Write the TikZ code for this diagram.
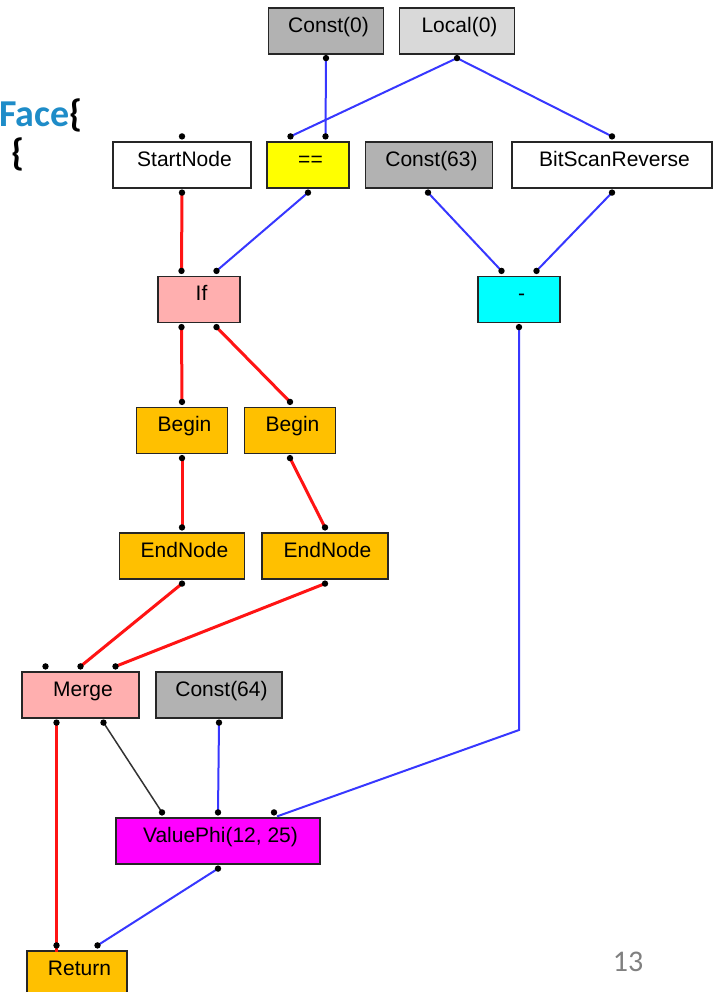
\documentclass[tikz,border=0pt]{standalone}
\usepackage{fontspec}
\setmainfont{Liberation Sans}
\newfontfamily\slidefont{Carlito}
\usetikzlibrary{calc}
\definecolor{constgray}{RGB}{178,178,178}
\definecolor{localgray}{RGB}{217,217,217}
\definecolor{cfgpink}{RGB}{255,175,175}
\definecolor{cfgorange}{RGB}{255,192,0}
\definecolor{cmpyellow}{RGB}{255,255,0}
\definecolor{arithcyan}{RGB}{0,255,255}
\definecolor{phimagenta}{RGB}{255,0,255}
\definecolor{datablue}{RGB}{55,55,255}
\definecolor{ctrlred}{RGB}{255,20,20}
\definecolor{slideblue}{RGB}{30,140,200}
\tikzset{
  irnode/.style={rectangle, draw=black!85, line width=1.2pt, minimum height=46pt, inner sep=0pt,
                text centered, font=\fontsize{21}{24}\selectfont, text height=0.72em, text depth=0.5em,
                execute at begin node={\hspace*{5pt}}},
  constnode/.style={irnode, fill=constgray},
  localnode/.style={irnode, fill=localgray},
  plainnode/.style={irnode, fill=white},
  cmpnode/.style={irnode, fill=cmpyellow},
  cfgnode/.style={irnode, fill=cfgpink},
  blocknode/.style={irnode, fill=cfgorange},
  arithnode/.style={irnode, fill=arithcyan},
  phinode/.style={irnode, fill=phimagenta},
  control/.style={ctrlred, line width=3pt},
  data/.style={datablue, line width=2pt},
  assoc/.style={black!80, line width=1.5pt},
  slidetext/.style={inner sep=0pt, font=\slidefont\bfseries\fontsize{38}{42}\selectfont}
}

\begin{document}
\begin{tikzpicture}[x=1pt, y=-1pt]
\useasboundingbox (0,0) rectangle (712,992);

% Slide text
\node (facetext) [slidetext, anchor=base west] at (-1,127) {\textcolor{slideblue}{Face}\{};
\node (bracetext) [slidetext, anchor=base west] at (11,166) {\{};
\node (pagenum) [inner sep=0pt, text=black!50, font=\slidefont\fontsize{30}{34}\selectfont] at (628,962) {13};

% Nodes
\node (c0) [constnode, minimum width=115pt] at (326,31) {Const(0)};
\node (loc) [localnode, minimum width=115pt] at (457,31) {Local(0)};
\node (start) [plainnode, minimum width=138pt] at (182,165) {StartNode};
\node (eq) [cmpnode, minimum width=82pt] at (308,165) {==};
\node (c63) [constnode, minimum width=127pt] at (429,165) {Const(63)};
\node (bsr) [plainnode, minimum width=200pt] at (612,165) {BitScanReverse};
\node (if) [cfgnode, minimum width=82pt] at (199,299.5) {If};
\node (sub) [arithnode, minimum width=82pt] at (519,299.5) {-};
\node (b1) [blocknode, minimum width=91pt] at (182,430.5) {Begin};
\node (b2) [blocknode, minimum width=91pt] at (290,430.5) {Begin};
\node (e1) [blocknode, minimum width=125pt] at (182,556) {EndNode};
\node (e2) [blocknode, minimum width=126pt] at (325,556) {EndNode};
\node (merge) [cfgnode, minimum width=117pt] at (80.5,695) {Merge};
\node (c64) [constnode, minimum width=126pt] at (219,695) {Const(64)};
\node (phi) [phinode, minimum width=204pt] at (218,841) {ValuePhi(12, 25)};
\node (ret) [blocknode, minimum width=100pt] at (77,974) {Return};

% Ports
\coordinate (c0-o) at ($(c0.south)+(0,3.5)$);
\coordinate (loc-o) at ($(loc.south)+(0,3.5)$);
\coordinate (start-i) at ($(start.north)+(0,-5)$);
\coordinate (start-o) at ($(start.south)+(0,4)$);
\coordinate (eq-i1) at ($(eq.north)+(-17.5,-5)$);
\coordinate (eq-i2) at ($(eq.north)+(17.5,-5)$);
\coordinate (eq-o) at ($(eq.south)+(0,4)$);
\coordinate (c63-o) at ($(c63.south)+(-1,4)$);
\coordinate (bsr-i) at ($(bsr.north)+(0,-5)$);
\coordinate (bsr-o) at ($(bsr.south)+(0,4)$);
\coordinate (if-i1) at ($(if.north)+(-17.5,-5)$);
\coordinate (if-i2) at ($(if.north)+(17.5,-5)$);
\coordinate (if-o1) at ($(if.south)+(-17.5,4)$);
\coordinate (if-o2) at ($(if.south)+(17.5,4)$);
\coordinate (sub-i1) at ($(sub.north)+(-17.5,-5)$);
\coordinate (sub-i2) at ($(sub.north)+(17.5,-5)$);
\coordinate (sub-o) at ($(sub.south)+(0,4)$);
\coordinate (b1-i) at ($(b1.north)+(0,-5)$);
\coordinate (b1-o) at ($(b1.south)+(0,4)$);
\coordinate (b2-i) at ($(b2.north)+(0,-5)$);
\coordinate (b2-o) at ($(b2.south)+(0,4)$);
\coordinate (e1-i) at ($(e1.north)+(0,-5)$);
\coordinate (e1-o) at ($(e1.south)+(0,4)$);
\coordinate (e2-i) at ($(e2.north)+(0,-5)$);
\coordinate (e2-o) at ($(e2.south)+(0,4)$);
\coordinate (merge-i1) at ($(merge.north)+(-35,-5)$);
\coordinate (merge-i2) at ($(merge.north)+(0,-5)$);
\coordinate (merge-i3) at ($(merge.north)+(35,-5)$);
\coordinate (merge-o1) at ($(merge.south)+(-24,4)$);
\coordinate (merge-o2) at ($(merge.south)+(23,4)$);
\coordinate (c64-o) at ($(c64.south)+(0,4)$);
\coordinate (phi-i1) at ($(phi.north)+(-56,-5)$);
\coordinate (phi-i2) at ($(phi.north)+(0,-5)$);
\coordinate (phi-i3) at ($(phi.north)+(56,-5)$);
\coordinate (phi-o) at ($(phi.south)+(0,4)$);
\coordinate (ret-i1) at ($(ret.north)+(-20.5,-5)$);
\coordinate (ret-i2) at ($(ret.north)+(20.5,-5)$);
\coordinate (subbend) at (519,730);

% Edges
\draw [data] (c0-o) -- (eq-i2);
\draw [data] (loc-o) -- (eq-i1);
\draw [data] (loc-o) -- (bsr-i);
\draw [control] (start-o) -- (if-i1);
\draw [data] (eq-o) -- (if-i2);
\draw [data] (c63-o) -- (sub-i1);
\draw [data] (bsr-o) -- (sub-i2);
\draw [control] (if-o1) -- (b1-i);
\draw [control] (if-o2) -- (b2-i);
\draw [control] (b1-o) -- (e1-i);
\draw [control] (b2-o) -- (e2-i);
\draw [control] (e1-o) -- (merge-i2);
\draw [control] (e2-o) -- (merge-i3);
\draw [control] (merge-o1) -- ($(ret.north)+(-20.5,2)$);
\draw [assoc] (merge-o2) -- (phi-i1);
\draw [data] (c64-o) -- (phi-i2);
\draw [data] (sub-o) -- (subbend) -- ($(phi.north)+(59,-1)$);
\draw [data] (phi-o) -- (ret-i2);

% Port dots
\foreach \p in {c0-o, loc-o, start-i, start-o, eq-i1, eq-i2, eq-o, c63-o, bsr-i, bsr-o,
                if-i1, if-i2, if-o1, if-o2, sub-i1, sub-i2, sub-o, b1-i, b1-o, b2-i, b2-o,
                e1-i, e1-o, e2-i, e2-o, merge-i1, merge-i2, merge-i3, merge-o1, merge-o2,
                c64-o, phi-i1, phi-i2, phi-i3, phi-o, ret-i1, ret-i2}
  \fill (\p) circle (3.2pt);
\end{tikzpicture}
\end{document}
